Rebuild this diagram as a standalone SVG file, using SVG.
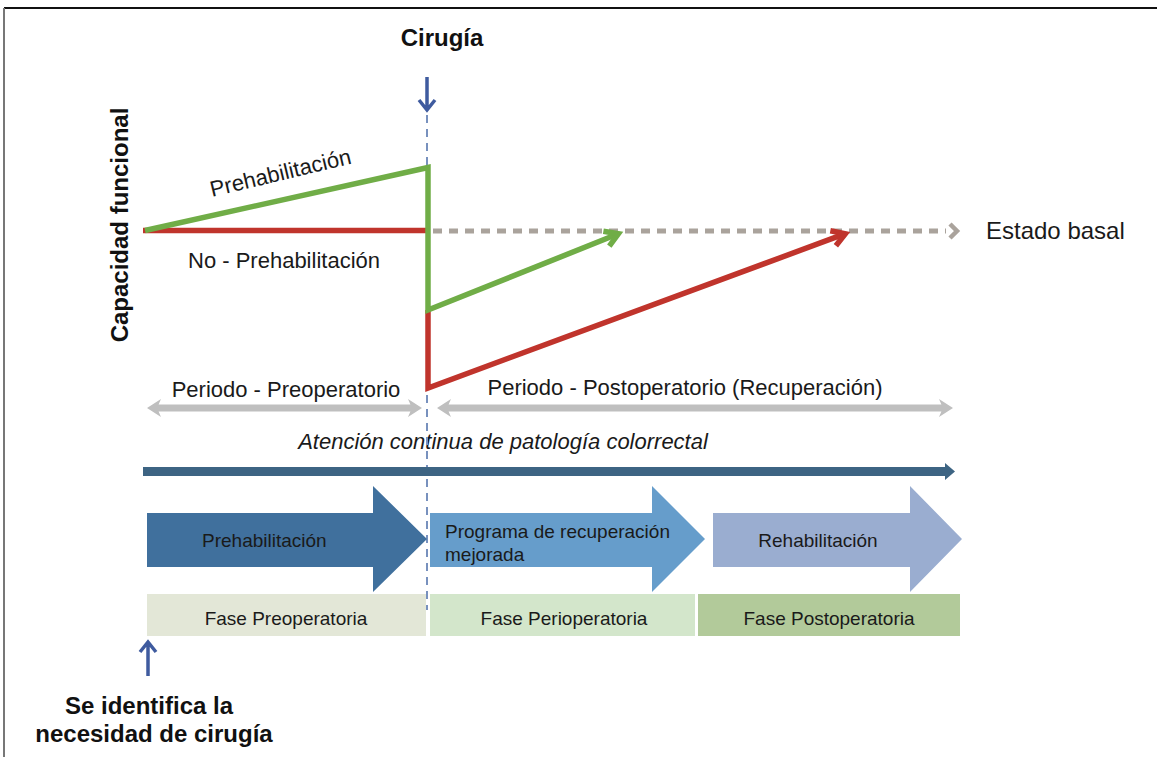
<svg xmlns="http://www.w3.org/2000/svg" width="1157" height="757" viewBox="0 0 1157 757">
<style>
text{font-family:"Liberation Sans",Arial,sans-serif;fill:#1a1a1a}
.b{font-weight:bold;font-size:24px;fill:#111}
.l{font-size:22px}
.s{font-size:19px}
.g{fill:none;stroke:#70ad47;stroke-width:5.5;stroke-linejoin:miter}
.r{fill:none;stroke:#c0342c;stroke-width:5.5;stroke-linejoin:miter}
</style>
<defs>
<marker id="mg" markerUnits="userSpaceOnUse" orient="auto" overflow="visible" markerWidth="20" markerHeight="20" refX="0" refY="0"><path d="M-13,-8 L0,0 L-13,8" fill="none" stroke="#70ad47" stroke-width="5.5"/></marker>
<marker id="mr" markerUnits="userSpaceOnUse" orient="auto" overflow="visible" markerWidth="20" markerHeight="20" refX="0" refY="0"><path d="M-13,-8 L0,0 L-13,8" fill="none" stroke="#c0342c" stroke-width="5.5"/></marker>
</defs>
<rect width="1157" height="757" fill="#fff"/>
<g id="frame">
<line x1="4" y1="8" x2="1157" y2="8" stroke="#111" stroke-width="2"/>
<line x1="4" y1="8" x2="4" y2="757" stroke="#777" stroke-width="2"/>
</g>
<g id="labels">
<text class="b" x="442" y="46" text-anchor="middle">Cirugía</text>
<text class="b" transform="translate(128,225) rotate(-90)" text-anchor="middle">Capacidad funcional</text>
<text class="l" transform="translate(212,197) rotate(-13.5)">Prehabilitación</text>
<text class="l" x="188" y="268">No - Prehabilitación</text>
<text x="986" y="239" style="font-size:24px">Estado basal</text>
<text class="l" x="286" y="397" text-anchor="middle">Periodo - Preoperatorio</text>
<text class="l" x="685" y="395" text-anchor="middle">Periodo - Postoperatorio (Recuperación)</text>
<text class="l" x="503" y="449" text-anchor="middle" font-style="italic">Atención continua de patología colorrectal</text>
<text class="b" x="149" y="714" text-anchor="middle">Se identifica la</text>
<text class="b" x="154" y="742" text-anchor="middle">necesidad de cirugía</text>
</g>
<g id="connectors">
<line x1="427" y1="115" x2="427" y2="610" stroke="#7891be" stroke-width="2" stroke-dasharray="8,6"/>
<path d="M427,77 V109 M419,100 L427,110 L435,100" fill="none" stroke="#3f5b9f" stroke-width="3.5"/>
<path d="M148,676 V644 M140,652 L148,642 L156,652" fill="none" stroke="#3f5b9f" stroke-width="3.5"/>
<line x1="433" y1="231" x2="946" y2="231" stroke="#aaa39c" stroke-width="5" stroke-dasharray="9,7"/>
<path d="M950,224 L957,231 L950,238" fill="none" stroke="#aaa39c" stroke-width="4.5"/>
<path class="r" d="M143,230.5 H428"/>
<path class="r" d="M428,310 V388 L845.3,233.7" marker-end="url(#mr)"/>
<path class="g" d="M145,230.5 L428,167.5 V310 L618.4,233.8" marker-end="url(#mg)"/>
<polygon fill="#bfbfbf" points="147,408 161,399 158.6,404.5 410.4,404.5 408,399 422,408 408,417 410.4,411.5 158.6,411.5 161,417"/>
<polygon fill="#bfbfbf" points="437,408 451,399 448.6,404.5 941.4,404.5 939,399 953,408 939,417 941.4,411.5 448.6,411.5 451,417"/>
<polygon fill="#3d6483" points="143,467 945,467 945,463 955,471.5 945,480 945,476 143,476"/>
</g>
<g id="arrow-prehab">
<polygon fill="#40709d" points="147,513 373,513 373,486 427,539 373,592 373,567 147,567"/>
<text class="s" x="202" y="547">Prehabilitación</text>
</g>
<g id="arrow-programa">
<polygon fill="#669dcb" points="430,513 652,513 652,486 705,539 652,592 652,567 430,567"/>
<text class="s" x="445" y="538">Programa de recuperación</text>
<text class="s" x="445" y="561">mejorada</text>
</g>
<g id="arrow-rehab">
<polygon fill="#9aadd0" points="713,513 910,513 910,486 962,539 910,592 910,567 713,567"/>
<text class="s" x="818" y="547" text-anchor="middle">Rehabilitación</text>
</g>
<g id="fase-pre">
<rect x="147" y="594" width="279" height="42" fill="#e3e7d7"/>
<text class="s" x="286" y="625" text-anchor="middle">Fase Preoperatoria</text>
</g>
<g id="fase-peri">
<rect x="430" y="594" width="265" height="42" fill="#d3e6cb"/>
<text class="s" x="564" y="625" text-anchor="middle">Fase Perioperatoria</text>
</g>
<g id="fase-post">
<rect x="698" y="594" width="262" height="42" fill="#b2ca9a"/>
<text class="s" x="829" y="625" text-anchor="middle">Fase Postoperatoria</text>
</g>
</svg>
